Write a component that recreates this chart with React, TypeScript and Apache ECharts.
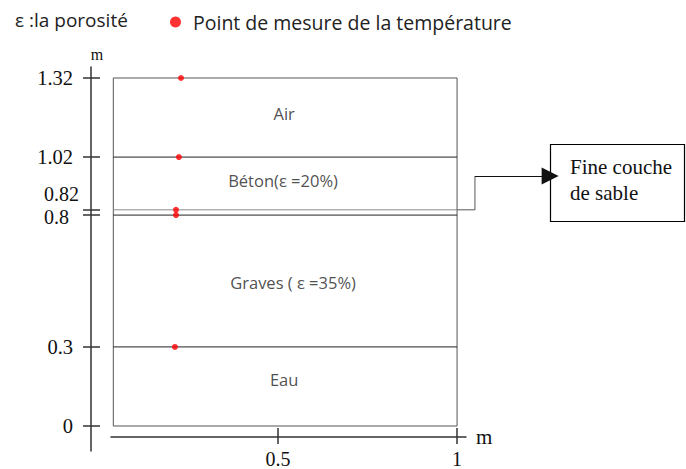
import React, { useEffect, useRef } from "react";
import * as echarts from "echarts";

// ---- data ----
const yTickValues = [0, 0.3, 0.8, 0.82, 1.02, 1.32];
const yLabelsMain = [0, 0.3, 1.02, 1.32];
const yLabelUpper = [0.82];
const yLabelLower = [0.8];
const xTickValues = [0.5, 1];
const boxX = [0.04, 1.0];
const boundaries = [0.3, 0.8, 0.82, 1.02];
const layerNames = ["Eau", "Graves ( ε =35%)", "Béton(ε =20%)", "Air"];
const layerLabelX = [0.517, 0.542, 0.514, 0.517];
const layerLabelY = [0.175, 0.543, 0.93, 1.184];
const pointX = [0.212, 0.215, 0.215, 0.223, 0.229];
const pointY = [0.3, 0.8, 0.82, 1.02, 1.32];
const leaderPath = [
  [1.0, 0.82],
  [1.05, 0.82],
  [1.05, 0.948],
];
const arrowSegment = [
  [1.05, 0.948],
  [1.26, 0.948],
];

const SERIF = "'Liberation Serif', 'Times New Roman', serif";
const SANS = "'Open Sans', 'Noto Sans', sans-serif";

export default function App() {
  const ref = useRef<HTMLDivElement>(null);
  useEffect(() => {
    if (!ref.current) return;
    const chart = echarts.init(ref.current, null, { renderer: "svg" });

    const xMin = 0.0335;
    const xMax = 1.025;
    const yMin = -0.0948;
    const yMax = 1.3617;

    const boxLines = [
      { coords: [[boxX[0], 0], [boxX[1], 0], [boxX[1], 1.32], [boxX[0], 1.32], [boxX[0], 0]], lineStyle: { color: "#555" } },
      ...boundaries.map((b) => ({
        coords: [[boxX[0], b], [boxX[1], b]],
        lineStyle: { color: b === 0.82 ? "#8a8a8a" : "#222" },
      })),
    ];

    const yBase = (extra: any) => ({
      type: "value",
      min: yMin,
      max: yMax,
      offset: 20,
      position: "left",
      splitLine: { show: false },
      ...extra,
    });

    const option: any = {
      animation: false,
      title: {
        text: "ε :la porosité",
        left: 10,
        top: 5,
        textStyle: { fontFamily: SANS, fontSize: 19, fontWeight: "normal", color: "#222" },
      },
      legend: {
        left: 165,
        top: 7,
        itemWidth: 25,
        itemHeight: 11,
        data: [{ name: "Point de mesure de la température", icon: "circle" }],
        textStyle: { fontFamily: SANS, fontSize: 19.5, color: "#222" },
      },
      grid: { left: 111, right: 220, top: 67, bottom: 18 },
      xAxis: [
        {
          type: "value",
          min: xMin,
          max: xMax,
          offset: -14,
          position: "bottom",
          splitLine: { show: false },
          axisLine: { onZero: false, lineStyle: { color: "#333", width: 1.5 } },
          axisTick: { customValues: xTickValues, length: 7, lineStyle: { color: "#333", width: 1.5 } },
          axisLabel: {
            customValues: xTickValues,
            margin: 12,
            fontFamily: SERIF,
            fontSize: 20,
            color: "#111",
            formatter: (v: number) => String(v),
          },
          name: "m",
          nameLocation: "end",
          nameGap: 10,
          nameTextStyle: { fontFamily: SERIF, fontSize: 21, color: "#111" },
        },
        {
          type: "value",
          min: xMin,
          max: xMax,
          offset: -14,
          position: "bottom",
          splitLine: { show: false },
          axisLine: { show: false, onZero: false },
          axisTick: { customValues: xTickValues, inside: true, length: 9, lineStyle: { color: "#333", width: 1.5 } },
          axisLabel: { show: false },
        },
      ],
      yAxis: [
        yBase({
          axisLine: { onZero: false, lineStyle: { color: "#333", width: 1.5 } },
          axisTick: { customValues: yTickValues, length: 8, lineStyle: { color: "#333", width: 1.5 } },
          axisLabel: {
            customValues: yLabelsMain,
            margin: 18,
            fontFamily: SERIF,
            fontSize: 20.5,
            color: "#111",
            formatter: (v: number) => String(v),
          },
          name: "m",
          nameLocation: "end",
          nameGap: 5,
          nameTextStyle: { fontFamily: SERIF, fontSize: 16, color: "#111", padding: [0, 0, 0, 12] },
        }),
        yBase({
          axisLine: { show: false, onZero: false },
          axisTick: { customValues: yTickValues, inside: true, length: 9, lineStyle: { color: "#333", width: 1.5 } },
          axisLabel: {
            customValues: yLabelUpper,
            margin: 47,
            align: "left",
            verticalAlign: "bottom",
            padding: [0, 0, 6, 0],
            fontFamily: SERIF,
            fontSize: 20,
            lineHeight: 19,
            color: "#111",
            formatter: (v: number) => String(v),
          },
        }),
        yBase({
          axisLine: { show: false, onZero: false },
          axisTick: { show: false },
          axisLabel: {
            customValues: yLabelLower,
            margin: 47,
            align: "left",
            verticalAlign: "top",
            padding: [-8, 0, 0, 0],
            fontFamily: SERIF,
            fontSize: 20,
            lineHeight: 19,
            color: "#111",
            formatter: (v: number) => String(v),
          },
        }),
      ],
      series: [
        {
          type: "lines",
          coordinateSystem: "cartesian2d",
          polyline: true,
          silent: true,
          lineStyle: { width: 1, opacity: 1 },
          data: boxLines,
        },
        {
          type: "lines",
          coordinateSystem: "cartesian2d",
          polyline: true,
          silent: true,
          clip: false,
          lineStyle: { width: 1, color: "#555", opacity: 1 },
          data: [{ coords: leaderPath }],
        },
        {
          type: "lines",
          coordinateSystem: "cartesian2d",
          silent: true,
          clip: false,
          symbol: ["none", "triangle"],
          symbolSize: [15, 17],
          lineStyle: { width: 1, color: "#111", opacity: 1 },
          data: [{ coords: arrowSegment }],
        },
        {
          name: "Point de mesure de la température",
          type: "scatter",
          symbol: "circle",
          symbolSize: 6,
          itemStyle: { color: "#ff0000" },
          data: pointX.map((x, i) => [x, pointY[i]]),
        },
        {
          type: "scatter",
          symbolSize: 0,
          silent: true,
          itemStyle: { color: "transparent" },
          label: {
            show: true,
            position: "inside",
            fontFamily: SANS,
            fontSize: 16.5,
            color: "#222",
            formatter: (p: any) => layerNames[p.dataIndex],
          },
          data: layerLabelX.map((x, i) => [x, layerLabelY[i]]),
        },
      ],
      graphic: [
        {
          type: "rect",
          shape: { x: 550.5, y: 144.5, width: 134, height: 77 },
          style: { fill: "#fff", stroke: "#000", lineWidth: 1.2 },
        },
        {
          type: "text",
          x: 570,
          y: 154,
          style: {
            text: "Fine couche\nde sable",
            fontFamily: SERIF,
            fontSize: 21,
            lineHeight: 26,
            fill: "#111",
          },
        },
      ],
    };
    chart.setOption(option);
    return () => chart.dispose();
  }, []);
  return <div ref={ref} style={{ width: 686, height: 469, position: "absolute", left: 0, top: 0 }} />;
}
